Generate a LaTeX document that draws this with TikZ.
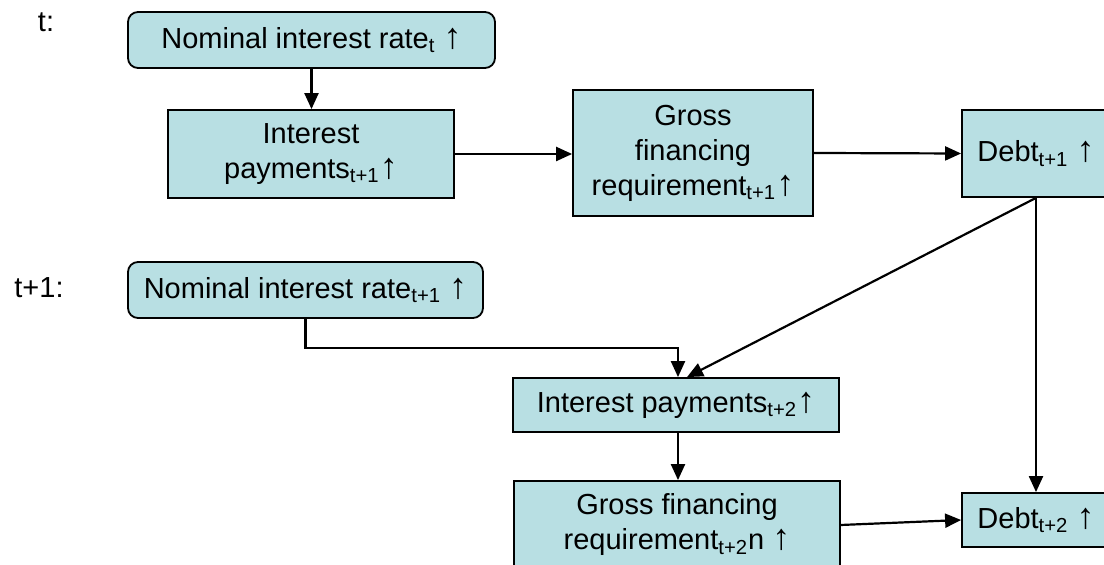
\documentclass[tikz,border=0pt]{standalone}
\usepackage{fontspec}
\setmainfont{Liberation Sans}
\usetikzlibrary{arrows.meta,calc}
\definecolor{boxfill}{RGB}{184,223,227}
\newcommand{\uparrw}{{\fontsize{18}{17}\selectfont ↑}}
\begin{document}
\begin{tikzpicture}[x=0.5pt,y=-0.5pt,
  every node/.style={font=\fontsize{14.5}{17.5}\selectfont},
  box/.style={draw=black,line width=0.9pt,fill=boxfill,align=center,inner sep=0pt,anchor=center},
  rbox/.style={box,rounded corners=5pt},
  lbl/.style={inner sep=0pt},
  arr/.style={draw=black,line width=1.1pt,-{Triangle[length=8pt,width=7pt]}}]
\useasboundingbox (0,0) rectangle (1104,565);
\node[lbl] (tl) at (46,22) {t:};
\node[lbl] (tl2) at (39,288) {t+1:};
\node[rbox,minimum width=183.5pt,minimum height=28pt] (N1) at (311.5,40) {Nominal interest rate\textsubscript{t} \uparrw};
\node[box,minimum width=143pt,minimum height=44pt] (IP1) at (311,154) {Interest\\payments\textsubscript{t+1}\uparrw};
\node[box,minimum width=120pt,minimum height=63pt] (GFR1) at (693,153) {Gross\\financing\\requirement\textsubscript{t+1}\uparrw};
\node[box,minimum width=74pt,minimum height=43.5pt] (D1) at (1036,153.5) {Debt\textsubscript{t+1} \uparrw};
\node[rbox,minimum width=177.5pt,minimum height=28pt] (N2) at (305.5,290) {Nominal interest rate\textsubscript{t+1} \uparrw};
\node[box,minimum width=163pt,minimum height=27pt] (IP2) at (676,405) {Interest payments\textsubscript{t+2}\uparrw};
\node[box,minimum width=163pt,minimum height=44pt] (GFR2) at (677,525) {Gross financing\\requirement\textsubscript{t+2}n \uparrw};
\node[box,minimum width=74pt,minimum height=27pt] (D2) at (1036,520) {Debt\textsubscript{t+2} \uparrw};
\coordinate (e1) at ($(IP2.north)+(2,0)$);
\coordinate (e2) at ($(IP2.north)+(11,0)$);
\draw[arr] (N1.south) -- (N1.south |- IP1.north);
\draw[arr] (IP1.east) -- (GFR1.west |- IP1.east);
\draw[arr] (GFR1.east) -- (D1.west);
\draw[arr] (D1.south) -- (D2.north);
\draw[arr] (D1.south) -- (e2);
\draw[arr] (N2.south) -- ++(0,29) -| (e1);
\draw[arr] ($(IP2.south)+(2,0)$) -- ($(GFR2.north)+(1,0)$);
\draw[arr] (GFR2.east) -- (D2.west);
\end{tikzpicture}
\end{document}
